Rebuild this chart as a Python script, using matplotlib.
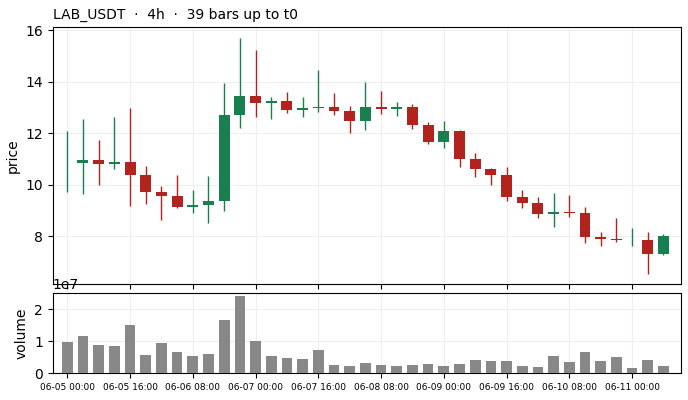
import numpy as np
import matplotlib
matplotlib.use("Agg")
import matplotlib.pyplot as plt

# OHLC + volume, 39 bars of 4h
opens = [10.85, 10.85, 10.96, 10.80, 10.88, 10.38, 9.72, 9.56, 9.14, 9.21,
         9.37, 12.70, 13.44, 13.18, 13.26, 12.90, 12.98, 13.03, 12.87, 12.48,
         13.01, 12.95, 13.01, 12.32, 11.66, 12.08, 11.00, 10.62, 10.38, 9.54,
         9.30, 8.88, 8.95, 8.90, 7.97, 7.90, 7.86, 7.86, 7.31]
highs = [12.08, 12.55, 11.73, 12.63, 12.98, 10.73, 9.95, 10.38, 9.78, 10.34,
         13.94, 15.68, 15.22, 13.39, 13.60, 13.39, 14.45, 13.56, 13.05, 13.98,
         13.63, 13.21, 13.13, 12.43, 12.47, 12.12, 11.23, 10.65, 10.69, 9.80,
         9.52, 9.67, 9.60, 9.14, 8.17, 8.71, 8.31, 8.17, 8.08]
lows = [9.73, 9.63, 10.00, 10.62, 9.19, 9.26, 8.62, 9.11, 8.89, 8.53,
        8.99, 12.19, 12.64, 12.54, 12.79, 12.61, 12.81, 12.72, 12.02, 12.11,
        12.75, 12.68, 12.17, 11.59, 11.44, 10.70, 10.31, 10.00, 9.38, 9.11,
        8.72, 8.35, 8.74, 7.73, 7.61, 7.77, 7.64, 6.55, 7.29]
closes = [10.85, 10.96, 10.80, 10.88, 10.38, 9.72, 9.56, 9.14, 9.21, 9.37,
          12.70, 13.44, 13.18, 13.26, 12.90, 12.98, 13.03, 12.87, 12.48, 13.01,
          12.95, 13.01, 12.32, 11.66, 12.08, 11.00, 10.62, 10.38, 9.54, 9.30,
          8.88, 8.94, 8.90, 7.99, 7.91, 7.86, 7.86, 7.31, 8.01]
green_flag = [1, 1, 0, 1, 0, 0, 0, 0, 1, 1,
              1, 1, 0, 1, 0, 1, 1, 0, 0, 1,
              0, 1, 0, 0, 1, 0, 0, 0, 0, 0,
              0, 1, 0, 0, 0, 0, 1, 0, 1]
volumes = [0.98, 1.17, 0.885, 0.854, 1.51, 0.573, 0.948, 0.667, 0.542, 0.604,
           1.667, 2.417, 1.01, 0.542, 0.479, 0.448, 0.729, 0.26, 0.229, 0.323,
           0.26, 0.229, 0.26, 0.292, 0.229, 0.292, 0.417, 0.385, 0.385, 0.229,
           0.198, 0.542, 0.354, 0.667, 0.385, 0.51, 0.167, 0.417, 0.229]
volumes = [v * 1e7 for v in volumes]

tick_pos = [0, 4, 8, 12, 16, 20, 24, 28, 32, 36]
tick_labels = ['06-05 00:00', '06-05 16:00', '06-06 08:00', '06-07 00:00',
               '06-07 16:00', '06-08 08:00', '06-09 00:00', '06-09 16:00',
               '06-10 08:00', '06-11 00:00']

GREEN = '#1a7f4e'
RED = '#b2231e'

x = np.arange(len(opens))
o = np.array(opens)
c = np.array(closes)
colors = [GREEN if g else RED for g in green_flag]

fig = plt.figure(figsize=(6.88, 4.0), dpi=100)
ax = fig.add_axes([0.0766, 0.29, 0.9128, 0.6425])
axv = fig.add_axes([0.0766, 0.0667, 0.9128, 0.2], sharex=ax)

# wicks then bodies
ax.vlines(x, lows, highs, colors=colors, linewidth=1.0, zorder=2)
ax.bar(x, np.abs(c - o), bottom=np.minimum(o, c), width=0.7,
       color=colors, linewidth=0, zorder=3)

ax.set_ylim(6.15, 16.12)
ax.set_xlim(-0.93, 39.1)
ax.set_yticks([8, 10, 12, 14, 16])
ax.set_ylabel('price', fontsize=10)
ax.set_title('LAB_USDT  ·  4h  ·  39 bars up to t0', loc='left', fontsize=10)
ax.grid(True, color='#eeeeee', linewidth=0.8, zorder=0)
ax.tick_params(axis='x', labelbottom=False)
ax.tick_params(axis='y', labelsize=10)

axv.bar(x, volumes, width=0.68, color='#888888', linewidth=0, zorder=3)
axv.set_ylim(0, 2.5e7)
axv.set_yticks([0, 1e7, 2e7])
axv.set_ylabel('volume', fontsize=10)
axv.grid(True, color='#eeeeee', linewidth=0.8, zorder=0)
axv.set_xticks(tick_pos)
axv.set_xticklabels(tick_labels)
axv.tick_params(axis='x', labelsize=6.5)
axv.tick_params(axis='y', labelsize=10)

fig.savefig('out.png', dpi=100)
